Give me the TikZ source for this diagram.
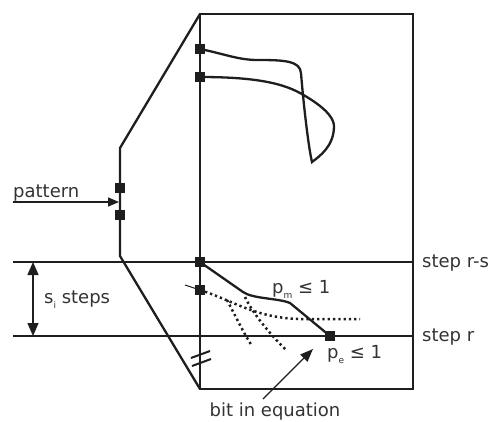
\documentclass[tikz,border=0pt]{standalone}
\usepackage{fontspec}
\setmainfont{DejaVu Sans}
\usetikzlibrary{arrows.meta}
\definecolor{ink}{HTML}{1E1E1E}
\definecolor{txt}{HTML}{333333}
\newcommand{\sbs}[1]{\raisebox{-0.28em}{\fontsize{9}{9}\selectfont #1}}
\begin{document}
\begin{tikzpicture}[x=1pt,y=-1pt,
  bold/.style={draw=ink, line width=2.3pt, line join=miter},
  fine/.style={draw=ink, line width=1.3pt},
  sq/.style={fill=ink, minimum size=10pt, inner sep=0pt, outer sep=0pt},
  lbl/.style={font=\fontsize{18}{20}\selectfont, inner sep=0pt, text=txt},
  dotline/.style={draw=ink, line width=2.5pt, dash pattern=on 2.3pt off 3pt},
]
\useasboundingbox (0,0) rectangle (496,421);
% frame
\coordinate (TL) at (200,14);
\coordinate (TR) at (413,14);
\coordinate (BR) at (413,389);
\coordinate (BL) at (200,389);
\coordinate (P1) at (120,148);
\coordinate (P2) at (120,256);
% step lines
\coordinate (L1) at (13,262);
\coordinate (R1) at (413,262);
\coordinate (L2) at (13,336);
\coordinate (R2) at (413,336);
\draw[fine] (L1) -- (R1);
\draw[fine] (L2) -- (R2);
\draw[bold] (TL) -- (TR) -- (BR) -- (BL) -- cycle;
\draw[bold] (TL) -- (P1) -- (P2) -- (BL);
% squares
\node[sq] (a1) at (120,188) {};
\node[sq] (a2) at (120,215) {};
\node[sq] (s1) at (200,49) {};
\node[sq] (s2) at (200,77) {};
\node[sq] (s3) at (200,262) {};
\node[sq] (s4) at (200,290) {};
\node[sq] (s5) at (330,336) {};
% top loop curve
\draw[bold] (s1.center) .. controls (225,54) and (238,60) .. (258,60)
  .. controls (285,60) and (300,61) .. (301,73)
  .. controls (304,110) and (309,150) .. (312,162)
  .. controls (320,156) and (334,146) .. (334,126)
  .. controls (334,116) and (320,104) .. (300,93)
  .. controls (280,82) and (250,77) .. (s2.center);
% bottom solid path
\draw[bold] (s3.center) -- (243,292) .. controls (253,299) and (278,298) .. (290,303) -- (s5.center);
% dotted paths
\draw[dotline] (s4.center) .. controls (232,300) and (255,318) .. (300,319) -- (360,319);
\draw[dotline] (227,300) .. controls (235,315) and (243,332) .. (252,346);
\draw[dotline] (245,297) .. controls (252,312) and (268,332) .. (286,350);
\coordinate (tk) at (185,285);
\draw[draw=ink, line width=1pt] (tk) -- (s4.center);
% break marks
\draw[draw=ink, line width=2pt] (191,358) -- (210,351);
\draw[draw=ink, line width=2pt] (192,366) -- (211,359);
% pattern arrow
\coordinate (pa0) at (13,202);
\coordinate (pa1) at (119,202);
\draw[fine, -{Triangle[length=11pt,width=9pt]}] (pa0) -- (pa1);
\node[lbl, anchor=base west] (pat) at (13,197) {pattern};
% s_i steps arrow
\coordinate (sa0) at (33,262);
\coordinate (sa1) at (33,336);
\draw[fine, {Triangle[length=13pt,width=11pt]}-{Triangle[length=13pt,width=11pt]}] (sa0) -- (sa1);
\node[lbl, anchor=base west] (si) at (44,303) {s\sbs{i} steps};
% step labels
\node[lbl, anchor=base west] (st1) at (422,267) {step r-s};
\node[lbl, anchor=base west] (st2) at (422,341) {step r};
% p labels
\node[lbl, anchor=base west] (pm) at (272,293) {p\sbs{m} ≤ 1};
\node[lbl, anchor=base west] (pe) at (327,358) {p\sbs{e} ≤ 1};
% bit in equation
\node[lbl, anchor=base] (bit) at (275,416) {bit in equation};
\coordinate (ba1) at (313,349);
\draw[draw=ink, line width=1.3pt, -{Triangle[length=13pt,width=10pt]}] (263,399) -- (ba1);
\end{tikzpicture}
\end{document}
